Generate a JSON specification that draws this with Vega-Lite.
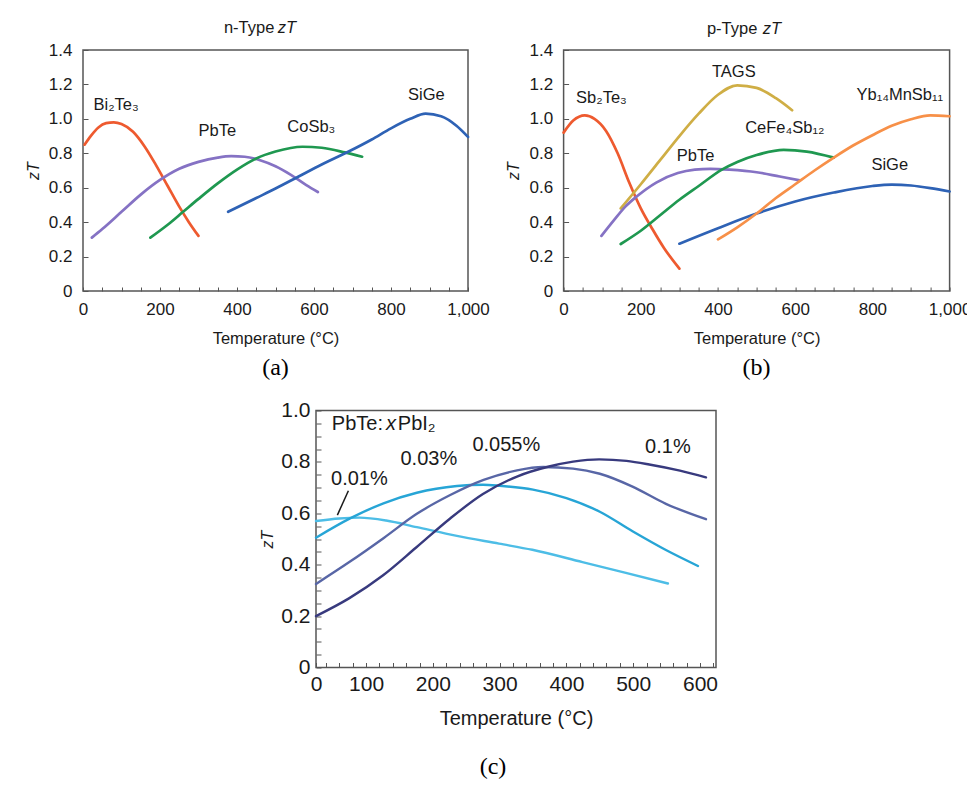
{
  "$schema": "https://vega.github.io/schema/vega-lite/v6.json",
  "padding": {"left": 24, "top": 19, "right": 0, "bottom": 5},
  "background": "white",
  "spacing": 17.5,
  "resolve": {"scale": {"color": "independent"}},
  "config": {
    "font": "Liberation Sans",
    "view": {"stroke": "#555555", "strokeWidth": 1.5},
    "axis": {"grid": false, "domain": false, "labelColor": "#1a1a1a", "titleColor": "#1a1a1a", "tickColor": "#555555", "labelFlush": false, "labelOverlap": false, "titleFontWeight": "normal"},
    "text": {"color": "#1a1a1a"}
  },
  "datasets": {
    "ntype": [
      {"material": "Bi2Te3", "T": 4, "zT": 0.85}, {"material": "Bi2Te3", "T": 20, "zT": 0.9}, {"material": "Bi2Te3", "T": 40, "zT": 0.95}, {"material": "Bi2Te3", "T": 60, "zT": 0.975}, {"material": "Bi2Te3", "T": 80, "zT": 0.98}, {"material": "Bi2Te3", "T": 100, "zT": 0.97}, {"material": "Bi2Te3", "T": 130, "zT": 0.925}, {"material": "Bi2Te3", "T": 160, "zT": 0.84}, {"material": "Bi2Te3", "T": 190, "zT": 0.73}, {"material": "Bi2Te3", "T": 220, "zT": 0.61}, {"material": "Bi2Te3", "T": 250, "zT": 0.49}, {"material": "Bi2Te3", "T": 275, "zT": 0.4}, {"material": "Bi2Te3", "T": 300, "zT": 0.32},
      {"material": "PbTe", "T": 23, "zT": 0.31}, {"material": "PbTe", "T": 50, "zT": 0.36}, {"material": "PbTe", "T": 100, "zT": 0.46}, {"material": "PbTe", "T": 150, "zT": 0.56}, {"material": "PbTe", "T": 200, "zT": 0.645}, {"material": "PbTe", "T": 250, "zT": 0.71}, {"material": "PbTe", "T": 300, "zT": 0.75}, {"material": "PbTe", "T": 350, "zT": 0.775}, {"material": "PbTe", "T": 385, "zT": 0.783}, {"material": "PbTe", "T": 420, "zT": 0.78}, {"material": "PbTe", "T": 460, "zT": 0.76}, {"material": "PbTe", "T": 500, "zT": 0.725}, {"material": "PbTe", "T": 540, "zT": 0.675}, {"material": "PbTe", "T": 580, "zT": 0.615}, {"material": "PbTe", "T": 610, "zT": 0.575},
      {"material": "CoSb3", "T": 175, "zT": 0.31}, {"material": "CoSb3", "T": 220, "zT": 0.385}, {"material": "CoSb3", "T": 260, "zT": 0.46}, {"material": "CoSb3", "T": 300, "zT": 0.535}, {"material": "CoSb3", "T": 350, "zT": 0.625}, {"material": "CoSb3", "T": 400, "zT": 0.705}, {"material": "CoSb3", "T": 450, "zT": 0.77}, {"material": "CoSb3", "T": 500, "zT": 0.81}, {"material": "CoSb3", "T": 570, "zT": 0.838}, {"material": "CoSb3", "T": 620, "zT": 0.832}, {"material": "CoSb3", "T": 680, "zT": 0.805}, {"material": "CoSb3", "T": 725, "zT": 0.78},
      {"material": "SiGe", "T": 377, "zT": 0.46}, {"material": "SiGe", "T": 450, "zT": 0.54}, {"material": "SiGe", "T": 500, "zT": 0.595}, {"material": "SiGe", "T": 560, "zT": 0.665}, {"material": "SiGe", "T": 620, "zT": 0.735}, {"material": "SiGe", "T": 690, "zT": 0.81}, {"material": "SiGe", "T": 750, "zT": 0.88}, {"material": "SiGe", "T": 800, "zT": 0.945}, {"material": "SiGe", "T": 850, "zT": 1.0}, {"material": "SiGe", "T": 890, "zT": 1.03}, {"material": "SiGe", "T": 930, "zT": 1.015}, {"material": "SiGe", "T": 970, "zT": 0.96}, {"material": "SiGe", "T": 1000, "zT": 0.895}
    ],
    "ptype": [
      {"material": "Sb2Te3", "T": 0, "zT": 0.92}, {"material": "Sb2Te3", "T": 25, "zT": 0.99}, {"material": "Sb2Te3", "T": 55, "zT": 1.02}, {"material": "Sb2Te3", "T": 80, "zT": 1.0}, {"material": "Sb2Te3", "T": 110, "zT": 0.93}, {"material": "Sb2Te3", "T": 140, "zT": 0.8}, {"material": "Sb2Te3", "T": 170, "zT": 0.63}, {"material": "Sb2Te3", "T": 200, "zT": 0.48}, {"material": "Sb2Te3", "T": 230, "zT": 0.36}, {"material": "Sb2Te3", "T": 260, "zT": 0.25}, {"material": "Sb2Te3", "T": 300, "zT": 0.13},
      {"material": "TAGS", "T": 148, "zT": 0.48}, {"material": "TAGS", "T": 200, "zT": 0.62}, {"material": "TAGS", "T": 250, "zT": 0.76}, {"material": "TAGS", "T": 300, "zT": 0.9}, {"material": "TAGS", "T": 350, "zT": 1.03}, {"material": "TAGS", "T": 400, "zT": 1.14}, {"material": "TAGS", "T": 450, "zT": 1.195}, {"material": "TAGS", "T": 500, "zT": 1.18}, {"material": "TAGS", "T": 550, "zT": 1.12}, {"material": "TAGS", "T": 592, "zT": 1.05},
      {"material": "PbTe", "T": 98, "zT": 0.32}, {"material": "PbTe", "T": 130, "zT": 0.41}, {"material": "PbTe", "T": 160, "zT": 0.49}, {"material": "PbTe", "T": 190, "zT": 0.55}, {"material": "PbTe", "T": 240, "zT": 0.63}, {"material": "PbTe", "T": 296, "zT": 0.685}, {"material": "PbTe", "T": 340, "zT": 0.705}, {"material": "PbTe", "T": 380, "zT": 0.71}, {"material": "PbTe", "T": 430, "zT": 0.705}, {"material": "PbTe", "T": 500, "zT": 0.69}, {"material": "PbTe", "T": 560, "zT": 0.665}, {"material": "PbTe", "T": 612, "zT": 0.643},
      {"material": "CeFe4Sb12", "T": 148, "zT": 0.273}, {"material": "CeFe4Sb12", "T": 200, "zT": 0.35}, {"material": "CeFe4Sb12", "T": 250, "zT": 0.44}, {"material": "CeFe4Sb12", "T": 300, "zT": 0.53}, {"material": "CeFe4Sb12", "T": 350, "zT": 0.61}, {"material": "CeFe4Sb12", "T": 410, "zT": 0.705}, {"material": "CeFe4Sb12", "T": 450, "zT": 0.75}, {"material": "CeFe4Sb12", "T": 500, "zT": 0.79}, {"material": "CeFe4Sb12", "T": 570, "zT": 0.82}, {"material": "CeFe4Sb12", "T": 630, "zT": 0.81}, {"material": "CeFe4Sb12", "T": 700, "zT": 0.775},
      {"material": "SiGe", "T": 300, "zT": 0.275}, {"material": "SiGe", "T": 400, "zT": 0.365}, {"material": "SiGe", "T": 500, "zT": 0.45}, {"material": "SiGe", "T": 600, "zT": 0.52}, {"material": "SiGe", "T": 700, "zT": 0.572}, {"material": "SiGe", "T": 800, "zT": 0.61}, {"material": "SiGe", "T": 850, "zT": 0.618}, {"material": "SiGe", "T": 900, "zT": 0.613}, {"material": "SiGe", "T": 950, "zT": 0.598}, {"material": "SiGe", "T": 1000, "zT": 0.578},
      {"material": "Yb14MnSb11", "T": 400, "zT": 0.3}, {"material": "Yb14MnSb11", "T": 450, "zT": 0.37}, {"material": "Yb14MnSb11", "T": 500, "zT": 0.45}, {"material": "Yb14MnSb11", "T": 550, "zT": 0.54}, {"material": "Yb14MnSb11", "T": 600, "zT": 0.62}, {"material": "Yb14MnSb11", "T": 650, "zT": 0.7}, {"material": "Yb14MnSb11", "T": 700, "zT": 0.775}, {"material": "Yb14MnSb11", "T": 750, "zT": 0.845}, {"material": "Yb14MnSb11", "T": 800, "zT": 0.905}, {"material": "Yb14MnSb11", "T": 850, "zT": 0.96}, {"material": "Yb14MnSb11", "T": 900, "zT": 0.998}, {"material": "Yb14MnSb11", "T": 950, "zT": 1.02}, {"material": "Yb14MnSb11", "T": 1000, "zT": 1.015}
    ],
    "pbi2": [
      {"x": "0.01%", "T": 25, "zT": 0.57}, {"x": "0.01%", "T": 60, "zT": 0.58}, {"x": "0.01%", "T": 90, "zT": 0.583}, {"x": "0.01%", "T": 130, "zT": 0.572}, {"x": "0.01%", "T": 176, "zT": 0.546}, {"x": "0.01%", "T": 236, "zT": 0.512}, {"x": "0.01%", "T": 299, "zT": 0.482}, {"x": "0.01%", "T": 349, "zT": 0.458}, {"x": "0.01%", "T": 424, "zT": 0.41}, {"x": "0.01%", "T": 489, "zT": 0.368}, {"x": "0.01%", "T": 552, "zT": 0.327},
      {"x": "0.03%", "T": 25, "zT": 0.505}, {"x": "0.03%", "T": 76, "zT": 0.58}, {"x": "0.03%", "T": 126, "zT": 0.639}, {"x": "0.03%", "T": 176, "zT": 0.68}, {"x": "0.03%", "T": 236, "zT": 0.706}, {"x": "0.03%", "T": 275, "zT": 0.711}, {"x": "0.03%", "T": 300, "zT": 0.707}, {"x": "0.03%", "T": 350, "zT": 0.692}, {"x": "0.03%", "T": 400, "zT": 0.659}, {"x": "0.03%", "T": 450, "zT": 0.606}, {"x": "0.03%", "T": 499, "zT": 0.53}, {"x": "0.03%", "T": 549, "zT": 0.457}, {"x": "0.03%", "T": 597, "zT": 0.395},
      {"x": "0.055%", "T": 25, "zT": 0.325}, {"x": "0.055%", "T": 76, "zT": 0.412}, {"x": "0.055%", "T": 126, "zT": 0.503}, {"x": "0.055%", "T": 176, "zT": 0.598}, {"x": "0.055%", "T": 226, "zT": 0.671}, {"x": "0.055%", "T": 276, "zT": 0.73}, {"x": "0.055%", "T": 326, "zT": 0.767}, {"x": "0.055%", "T": 365, "zT": 0.78}, {"x": "0.055%", "T": 410, "zT": 0.774}, {"x": "0.055%", "T": 450, "zT": 0.754}, {"x": "0.055%", "T": 499, "zT": 0.704}, {"x": "0.055%", "T": 549, "zT": 0.637}, {"x": "0.055%", "T": 609, "zT": 0.577},
      {"x": "0.1%", "T": 25, "zT": 0.2}, {"x": "0.1%", "T": 75, "zT": 0.27}, {"x": "0.1%", "T": 125, "zT": 0.358}, {"x": "0.1%", "T": 175, "zT": 0.467}, {"x": "0.1%", "T": 225, "zT": 0.578}, {"x": "0.1%", "T": 275, "zT": 0.675}, {"x": "0.1%", "T": 326, "zT": 0.743}, {"x": "0.1%", "T": 374, "zT": 0.782}, {"x": "0.1%", "T": 410, "zT": 0.801}, {"x": "0.1%", "T": 449, "zT": 0.81}, {"x": "0.1%", "T": 490, "zT": 0.804}, {"x": "0.1%", "T": 524, "zT": 0.79}, {"x": "0.1%", "T": 570, "zT": 0.766}, {"x": "0.1%", "T": 609, "zT": 0.74}
    ],
    "labelsA": [
      {"T": 86, "zT": 1.08, "text": "Bi₂Te₃"}, {"T": 349, "zT": 0.927, "text": "PbTe"}, {"T": 593, "zT": 0.95, "text": "CoSb₃"}, {"T": 892, "zT": 1.14, "text": "SiGe"}
    ],
    "labelsB": [
      {"T": 98, "zT": 1.12, "text": "Sb₂Te₃"}, {"T": 441, "zT": 1.27, "text": "TAGS"}, {"T": 573, "zT": 0.947, "text": "CeFe₄Sb₁₂"}, {"T": 342, "zT": 0.784, "text": "PbTe"}, {"T": 871, "zT": 1.14, "text": "Yb₁₄MnSb₁₁"}, {"T": 845, "zT": 0.732, "text": "SiGe"}
    ],
    "labelsC": [
      {"T": 90, "zT": 0.733, "text": "0.01%"}, {"T": 194, "zT": 0.81, "text": "0.03%"}, {"T": 310, "zT": 0.866, "text": "0.055%"}, {"T": 552, "zT": 0.857, "text": "0.1%"}
    ],
    "headA": [{"T": 497, "zT": 1.525, "text": "n-Type"}],
    "headAVar": [{"T": 506, "zT": 1.525, "text": "zT"}],
    "headB": [{"T": 502, "zT": 1.52, "text": "p-Type"}],
    "headBVar": [{"T": 516, "zT": 1.52, "text": "zT"}],
    "headC": [{"T": 48.7, "zT": 0.946, "text": "PbTe:"}, {"T": 147.5, "zT": 0.946, "text": "PbI₂"}],
    "headCVar": [{"T": 130, "zT": 0.946, "text": "x"}],
    "leaderC": [{"T": 73.5, "zT": 0.688, "T2": 57, "zT2": 0.593}]
  },
  "vconcat": [
    {
      "hconcat": [
        {
          "width": 385, "height": 241,
          "title": {"text": "(a)", "orient": "bottom", "font": "Liberation Serif", "fontSize": 24, "fontWeight": "normal", "color": "#000000", "offset": 9},
          "encoding": {
            "x": {"field": "T", "type": "quantitative", "title": "Temperature (°C)", "scale": {"domain": [0, 1000], "nice": false, "zero": false},
              "axis": {"values": [0, 50, 100, 150, 200, 250, 300, 350, 400, 450, 500, 550, 600, 650, 700, 750, 800, 850, 900, 950, 1000], "labelExpr": "datum.value % 200 == 0 ? format(datum.value, ',') : ''", "tickSize": -4, "labelPadding": 14, "labelFontSize": 17, "titleFontSize": 16.5, "titlePadding": 13}},
            "y": {"field": "zT", "type": "quantitative", "title": "zT", "scale": {"domain": [0, 1.4], "nice": false, "zero": false},
              "axis": {"values": [0, 0.2, 0.4, 0.6, 0.8, 1.0, 1.2, 1.4], "labelExpr": "datum.value == 0 ? '0' : format(datum.value, '.1f')", "tickSize": -5, "labelPadding": 16, "labelFontSize": 17, "titleFontStyle": "italic", "titleFontSize": 16, "titlePadding": 7}}
          },
          "layer": [
            {"data": {"name": "ntype"}, "mark": {"type": "line", "interpolate": "monotone", "strokeWidth": 2.7, "strokeCap": "round"},
              "encoding": {"color": {"field": "material", "type": "nominal", "legend": null, "scale": {"domain": ["Bi2Te3", "PbTe", "CoSb3", "SiGe"], "range": ["#ee5a2f", "#8572c4", "#1f9850", "#2e62b5"]}}}},
            {"data": {"name": "labelsA"}, "mark": {"type": "text", "fontSize": 16.5}, "encoding": {"text": {"field": "text"}}},
            {"data": {"name": "headA"}, "mark": {"type": "text", "fontSize": 16.5, "align": "right"}, "encoding": {"text": {"field": "text"}}},
            {"data": {"name": "headAVar"}, "mark": {"type": "text", "fontSize": 16.5, "align": "left", "fontStyle": "italic"}, "encoding": {"text": {"field": "text"}}}
          ]
        },
        {
          "width": 386, "height": 241,
          "title": {"text": "(b)", "orient": "bottom", "font": "Liberation Serif", "fontSize": 24, "fontWeight": "normal", "color": "#000000", "offset": 9},
          "encoding": {
            "x": {"field": "T", "type": "quantitative", "title": "Temperature (°C)", "scale": {"domain": [0, 1000], "nice": false, "zero": false},
              "axis": {"values": [0, 50, 100, 150, 200, 250, 300, 350, 400, 450, 500, 550, 600, 650, 700, 750, 800, 850, 900, 950, 1000], "labelExpr": "datum.value % 200 == 0 ? format(datum.value, ',') : ''", "tickSize": -4, "labelPadding": 14, "labelFontSize": 17, "titleFontSize": 16.5, "titlePadding": 13}},
            "y": {"field": "zT", "type": "quantitative", "title": "zT", "scale": {"domain": [0, 1.4], "nice": false, "zero": false},
              "axis": {"values": [0, 0.2, 0.4, 0.6, 0.8, 1.0, 1.2, 1.4], "labelExpr": "datum.value == 0 ? '0' : format(datum.value, '.1f')", "tickSize": -5, "labelPadding": 16, "labelFontSize": 17, "titleFontStyle": "italic", "titleFontSize": 16, "titlePadding": 7}}
          },
          "layer": [
            {"data": {"name": "ptype"}, "mark": {"type": "line", "interpolate": "monotone", "strokeWidth": 2.7, "strokeCap": "round"},
              "encoding": {"color": {"field": "material", "type": "nominal", "legend": null, "scale": {"domain": ["Sb2Te3", "TAGS", "PbTe", "CeFe4Sb12", "SiGe", "Yb14MnSb11"], "range": ["#ee5a2f", "#cfae45", "#8572c4", "#1f9850", "#2e62b5", "#f79048"]}}}},
            {"data": {"name": "labelsB"}, "mark": {"type": "text", "fontSize": 16.5}, "encoding": {"text": {"field": "text"}}},
            {"data": {"name": "headB"}, "mark": {"type": "text", "fontSize": 16.5, "align": "right"}, "encoding": {"text": {"field": "text"}}},
            {"data": {"name": "headBVar"}, "mark": {"type": "text", "fontSize": 16.5, "align": "left", "fontStyle": "italic"}, "encoding": {"text": {"field": "text"}}}
          ]
        }
      ],
      "spacing": 95.6,
      "bounds": "flush",
      "resolve": {"scale": {"color": "independent"}}
    },
    {
      "hconcat": [
        {
          "width": 233, "height": 10,
          "data": {"values": []},
          "mark": {"type": "point", "opacity": 0},
          "view": {"stroke": null}
        },
        {
          "width": 400, "height": 257,
          "title": {"text": "(c)", "orient": "bottom", "font": "Liberation Serif", "fontSize": 24, "fontWeight": "normal", "color": "#000000", "offset": 27, "dx": -23},
          "encoding": {
            "x": {"field": "T", "type": "quantitative", "title": "Temperature (°C)", "scale": {"domain": [25, 624], "nice": false, "zero": false},
              "axis": {"values": [25, 40, 60, 80, 100, 120, 140, 160, 180, 200, 220, 240, 260, 280, 300, 320, 340, 360, 380, 400, 420, 440, 460, 480, 500, 520, 540, 560, 580, 600, 620], "labelExpr": "datum.value < 30 ? '0' : (datum.value % 100 == 0 ? format(datum.value, 'd') : '')", "tickSize": -5, "labelPadding": 11, "labelFontSize": 21, "titleFontSize": 20, "titlePadding": 13.5}},
            "y": {"field": "zT", "type": "quantitative", "title": "zT", "scale": {"domain": [0, 1.0], "nice": false, "zero": false},
              "axis": {"values": [0, 0.05, 0.1, 0.15, 0.2, 0.25, 0.3, 0.35, 0.4, 0.45, 0.5, 0.55, 0.6, 0.65, 0.7, 0.75, 0.8, 0.85, 0.9, 0.95, 1.0], "labelExpr": "round(datum.value * 100) % 20 == 0 ? (datum.value == 0 ? '0' : format(datum.value, '.1f')) : ''", "tickSize": -5, "labelPadding": 11, "labelFontSize": 21, "titleFontStyle": "italic", "titleFontSize": 16, "titlePadding": 5}}
          },
          "layer": [
            {"data": {"name": "pbi2"}, "mark": {"type": "line", "interpolate": "monotone", "strokeWidth": 2.4, "strokeCap": "round"},
              "encoding": {"color": {"field": "x", "type": "nominal", "legend": null, "scale": {"domain": ["0.01%", "0.03%", "0.055%", "0.1%"], "range": ["#4dbde6", "#27a5d6", "#5866a6", "#383a7e"]}}}},
            {"data": {"name": "leaderC"}, "mark": {"type": "rule", "color": "#1a1a1a", "strokeWidth": 1.5}, "encoding": {"x2": {"field": "T2"}, "y2": {"field": "zT2"}}},
            {"data": {"name": "labelsC"}, "mark": {"type": "text", "fontSize": 20}, "encoding": {"text": {"field": "text"}}},
            {"data": {"name": "headC"}, "mark": {"type": "text", "fontSize": 20, "align": "left"}, "encoding": {"text": {"field": "text"}}},
            {"data": {"name": "headCVar"}, "mark": {"type": "text", "fontSize": 20, "align": "left", "fontStyle": "italic"}, "encoding": {"text": {"field": "text"}}}
          ]
        }
      ],
      "spacing": 0,
      "bounds": "flush"
    }
  ]
}
